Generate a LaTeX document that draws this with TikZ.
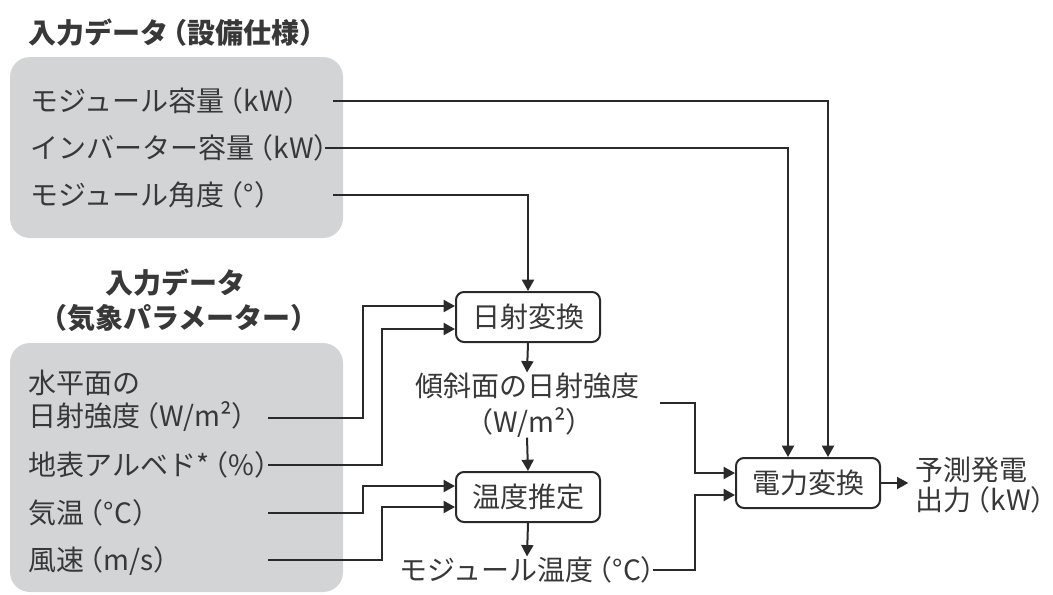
\documentclass[tikz,border=0pt]{standalone}
\usepackage{fontspec}
\setmainfont{Noto Sans CJK JP}
\usetikzlibrary{arrows.meta,calc}
\definecolor{ink}{HTML}{2A2A2A}
\definecolor{txt}{HTML}{383838}
\definecolor{panelgray}{HTML}{D3D4D6}
\newcommand{\myop}{\kern-.3em（}
\newcommand{\mycp}{）\kern-.5em}
\begin{document}
\begin{tikzpicture}[x=0.75pt,y=-0.75pt,
  lbl/.style={inner sep=0pt, text=txt, font=\fontsize{21}{25}\selectfont},
  ttl/.style={inner sep=0pt, text=txt, font=\fontsize{21}{26}\selectfont\bfseries},
  proc/.style={draw=ink, line width=1.5pt, rounded corners=6pt, minimum width=108pt, minimum height=37.5pt, inner sep=0pt, text=txt, font=\fontsize{21}{25}\selectfont},
  wire/.style={draw=ink, line width=1.5pt},
  arr/.style={wire, -{Triangle[length=8.5pt,width=9pt]}},
  panel/.style={fill=panelgray, rounded corners=15pt}]
\useasboundingbox (0,0) rectangle (1053,594);
\fill[panel] (10,57) rectangle (343,238);
\fill[panel] (10,343) rectangle (343,592);
% titles
\node[ttl, anchor=west] (t1) at (28,33) {入力データ\myop 設備仕様\mycp};
\node[ttl, align=center] (t2) at (176,300) {入力データ\\\myop 気象パラメーター\mycp};
% equipment inputs
\node[lbl, anchor=west] (m1) at (30,101) {モジュール容量\myop kW\mycp};
\node[lbl, anchor=west] (m2) at (30,148) {インバーター容量\myop kW\mycp};
\node[lbl, anchor=west] (m3) at (30,195) {モジュール角度\myop °\mycp};
% weather inputs
\node[lbl, anchor=west, align=left, font=\fontsize{21}{24.75}\selectfont] (w1) at (28,401) {水平面の\\日射強度\myop W/m²\mycp};
\node[lbl, anchor=west] (w2) at (28,465) {地表アルベド*\myop\%\mycp};
\node[lbl, anchor=west] (w3) at (28,513) {気温\myop °C\mycp};
\node[lbl, anchor=west] (w4) at (28,561) {風速\myop m/s\mycp};
% processes
\node[proc] (irr) at (528,317) {日射変換};
\node[lbl, align=center, font=\fontsize{21}{27}\selectfont] (tilt) at (527,405) {傾斜面の日射強度\\\myop W/m²\mycp};
\node[proc] (temp) at (528,497) {温度推定};
\node[lbl] (mt) at (527,570) {モジュール温度\myop °C\mycp};
\node[proc] (pc) at (808,483) {電力変換};
\node[lbl, anchor=west, align=left, font=\fontsize{21}{22.5}\selectfont] (out) at (915,485) {予測発電\\出力\myop kW\mycp};
% connectors from equipment
\coordinate (s1) at (333,101);
\coordinate (s2) at (325,148);
\coordinate (s3) at (333,195);
\draw[arr] (s1) -| ($(pc.north)+(20,0)$);
\draw[arr] (s2) -| ($(pc.north)+(-20,0)$);
\draw[arr] (s3) -| (irr.north);
% connectors from weather
\coordinate (s4) at (268,418); \coordinate (k4) at (363,306);
\coordinate (s5) at (268,465); \coordinate (k5) at (382,329);
\coordinate (s6) at (268,513); \coordinate (k6) at (363,486);
\coordinate (s7) at (268,560); \coordinate (k7) at (382,507);
\draw[arr] (s4) -| (k4) -- (irr.west |- k4);
\draw[arr] (s5) -| (k5) -- (irr.west |- k5);
\draw[arr] (s6) -| (k6) -- (temp.west |- k6);
\draw[arr] (s7) -| (k7) -- (temp.west |- k7);
% vertical chain
\draw[arr] (irr.south) -- (tilt.north);
\draw[arr] (tilt.south) -- (temp.north);
\draw[arr] (temp.south) -- (mt.north);
% to power conversion
\coordinate (s8) at (660,403); \coordinate (k8) at (695,473);
\coordinate (s9) at (653,570); \coordinate (k9) at (695,495);
\draw[arr] (s8) -| (k8) -- (pc.west |- k8);
\draw[arr] (s9) -| (k9) -- (pc.west |- k9);
\draw[arr, shorten >=5pt] (pc.east) -- (out.west |- pc.east);
\end{tikzpicture}
\end{document}
